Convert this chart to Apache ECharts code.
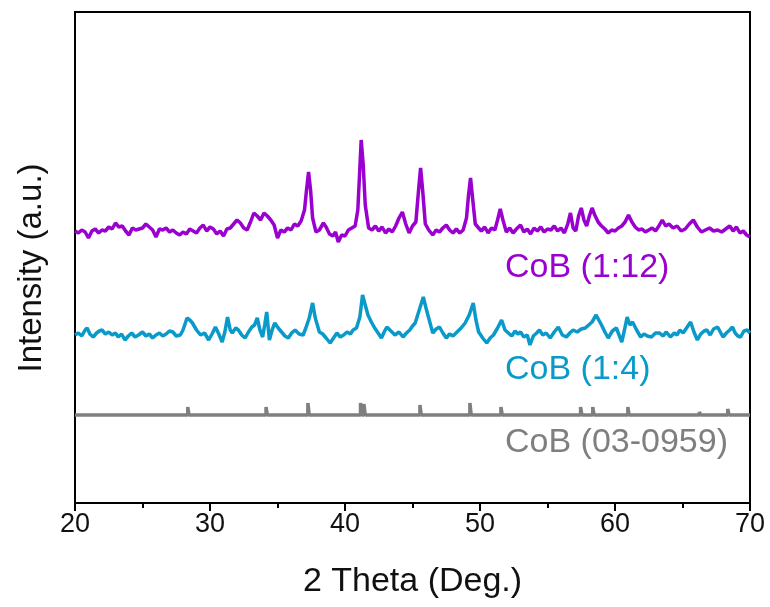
<!DOCTYPE html>
<html>
<head>
<meta charset="utf-8">
<script src="https://cdn.jsdelivr.net/npm/echarts@6/dist/echarts.min.js"></script>
<style>html,body{margin:0;padding:0;background:#fff}#c{width:770px;height:607px}</style>
</head>
<body>
<div id="c"></div>
<script>
// x tick labels
const xTicks = [20, 30, 40, 50, 60, 70];

// CoB (1:12) pattern
const cob12X = [20.0,20.25,20.5,20.75,21.0,21.25,21.5,21.75,22.0,22.25,22.5,22.75,23.0,23.25,23.5,23.75,24.0,24.25,24.5,24.75,25.0,25.25,25.5,25.75,26.0,26.25,26.5,26.75,27.0,27.25,27.5,27.75,28.0,28.25,28.5,28.75,29.0,29.25,29.5,29.75,30.0,30.25,30.5,30.75,31.0,31.25,31.5,31.75,32.0,32.25,32.5,32.75,33.0,33.25,33.5,33.75,34.0,34.25,34.5,34.75,35.0,35.25,35.5,35.75,36.0,36.25,36.5,36.75,37.0,37.15,37.3,37.45,37.6,37.85,38.1,38.4,38.6,38.85,39.1,39.3,39.5,39.75,40.0,40.25,40.5,40.75,40.95,41.1,41.2,41.35,41.5,41.75,42.0,42.25,42.5,42.75,43.0,43.25,43.5,43.75,44.0,44.25,44.5,44.75,45.0,45.25,45.45,45.6,45.75,45.95,46.2,46.5,46.75,47.0,47.25,47.5,47.75,48.0,48.25,48.5,48.75,49.0,49.15,49.3,49.45,49.65,49.9,50.1,50.35,50.6,50.85,51.1,51.3,51.5,51.7,51.95,52.2,52.45,52.7,53.0,53.25,53.5,53.75,54.0,54.25,54.5,54.75,55.0,55.25,55.5,55.75,56.0,56.25,56.5,56.7,56.9,57.1,57.3,57.5,57.7,57.9,58.1,58.3,58.5,58.75,59.0,59.25,59.5,59.75,60.0,60.25,60.5,60.75,61.0,61.25,61.5,61.75,62.0,62.25,62.5,62.75,63.0,63.25,63.5,63.75,64.0,64.3,64.6,64.9,65.2,65.5,65.8,66.1,66.4,66.7,67.0,67.3,67.6,67.9,68.2,68.5,68.75,69.0,69.25,69.5,69.75,70.0];
const cob12Y = [272,270,273,271,265,272,274,270,273,272,276,274,280,276,277,272,268,275,273,274,275,279,276,273,266,274,273,275,271,273,270,268,271,269,274,272,270,275,278,272,276,274,269,272,267,274,275,279,283,280,275,273,281,290,287,283,290,287,283,278,265,273,271,275,273,279,277,282,293,313,331,313,285,271,273,280,276,269,267,271,261,268,267,273,275,277,293,335,363,338,298,275,273,277,272,276,270,274,271,277,285,291,279,270,277,281,313,335,313,279,273,268,273,271,275,278,273,270,274,270,273,285,308,325,305,279,275,272,276,270,275,273,283,294,283,271,275,270,274,278,271,274,269,275,272,276,271,274,273,277,272,275,270,279,290,275,272,287,295,283,277,287,295,288,281,277,274,270,273,272,275,277,281,288,281,276,273,274,271,273,275,272,277,283,277,279,275,277,272,274,279,283,276,271,273,275,272,273,271,274,277,272,276,270,272,268,266];

// CoB (1:4) pattern
const cob4X = [20.0,20.25,20.5,20.75,20.9,21.1,21.35,21.6,21.8,22.0,22.25,22.5,22.75,23.0,23.2,23.45,23.7,23.95,24.2,24.45,24.7,25.0,25.25,25.5,25.75,26.0,26.25,26.5,26.75,27.0,27.25,27.5,27.8,28.0,28.3,28.5,28.7,29.0,29.3,29.6,29.9,30.15,30.4,30.65,30.9,31.1,31.3,31.5,31.65,31.9,32.1,32.35,32.6,32.85,33.1,33.3,33.5,33.7,33.9,34.05,34.2,34.4,34.6,34.8,35.05,35.3,35.55,35.8,36.05,36.3,36.6,36.9,37.1,37.35,37.6,37.8,38.1,38.35,38.6,38.9,39.15,39.4,39.65,39.9,40.15,40.4,40.6,40.85,41.1,41.3,41.5,41.7,41.95,42.2,42.45,42.7,42.9,43.1,43.4,43.7,44.0,44.3,44.55,44.8,45.0,45.2,45.5,45.8,46.0,46.2,46.5,46.75,47.0,47.25,47.5,47.75,48.0,48.3,48.6,48.9,49.2,49.5,49.7,49.9,50.2,50.5,50.75,51.0,51.3,51.6,51.85,52.1,52.35,52.6,52.8,53.0,53.25,53.5,53.7,53.95,54.2,54.4,54.65,54.9,55.2,55.5,55.8,56.1,56.4,56.65,56.9,57.2,57.5,57.8,58.05,58.3,58.6,58.8,59.0,59.25,59.5,59.8,60.1,60.3,60.5,60.7,60.9,61.1,61.3,61.6,61.9,62.15,62.4,62.7,63.0,63.3,63.55,63.8,64.1,64.4,64.6,64.8,65.05,65.3,65.6,65.85,66.1,66.35,66.6,66.8,67.05,67.3,67.6,67.8,68.0,68.25,68.5,68.7,68.9,69.1,69.3,69.55,69.8,70.0];
const cob4Y = [168,170,167,173,175,169,166,170,172,173,169,171,168,170,166,169,163,167,170,166,168,171,167,169,165,168,170,167,169,172,171,167,168,173,185,183,180,173,168,170,163,169,176,169,161,171,186,173,170,175,173,168,165,171,176,178,185,173,166,178,191,163,173,180,175,171,167,165,170,173,169,168,175,185,200,185,171,169,165,160,165,170,166,168,171,169,173,175,186,208,198,188,181,175,170,165,171,176,172,168,171,166,170,173,177,180,193,206,195,185,170,174,176,170,165,169,167,171,175,180,188,200,183,171,165,160,165,168,175,183,173,170,167,172,169,171,166,168,158,167,170,173,168,170,165,171,176,168,166,170,173,171,174,175,178,181,188,183,178,171,165,172,175,168,161,173,186,178,181,173,166,169,167,166,170,170,167,171,166,170,168,173,170,175,181,171,163,169,172,173,168,174,176,171,166,170,173,176,170,167,166,172,173,170];

// CoB (03-0959) reference lines
const refBase = 88;
const refPos = [28.4, 34.2, 37.3, 41.2, 41.45, 45.6, 49.3, 51.6, 57.5, 58.4, 61.0, 66.3, 68.4];
const refTop = [96, 96, 100, 100, 99, 98, 100, 96, 96, 96, 96, 91, 94];

const purple = '#9A00CF';
const cyan = '#0A9ACA';
const grey = '#7F7F7F';
const FONT = 'Liberation Sans, Arial, sans-serif';

const zip = (xs, ys) => xs.map((x, i) => [x, ys[i]]);
const refData = [[20, refBase]];
refPos.forEach((x, i) => {
  refData.push([x - 0.05, refBase], [x - 0.05, refTop[i]], [x + 0.05, refTop[i]], [x + 0.05, refBase]);
});
refData.push([70, refBase]);

const chart = echarts.init(document.getElementById('c'), null, {renderer: 'canvas'});
chart.setOption({
  animation: false,
  backgroundColor: '#fff',
  grid: {left: 75, right: 20, top: 12, bottom: 104, containLabel: false, outerBoundsMode: 'none',
         show: true, borderColor: '#000', borderWidth: 2},
  xAxis: {
    type: 'value', min: xTicks[0], max: xTicks[xTicks.length - 1], interval: 10,
    name: '2 Theta (Deg.)', nameLocation: 'middle', nameGap: 62,
    nameTextStyle: {fontFamily: FONT, fontSize: 34, color: '#111'},
    axisLine: {show: true, lineStyle: {color: '#000', width: 2}},
    axisTick: {show: true, inside: false, length: 8, lineStyle: {color: '#000', width: 2}},
    minorTick: {show: true, splitNumber: 2, length: 5, lineStyle: {color: '#000', width: 2}},
    axisLabel: {fontFamily: FONT, fontSize: 27, color: '#111', margin: 8},
    splitLine: {show: false}
  },
  yAxis: {
    type: 'value', min: 0, max: 491,
    axisLine: {show: true, lineStyle: {color: '#000', width: 2}},
    axisTick: {show: false}, axisLabel: {show: false}, splitLine: {show: false}
  },
  series: [
    {type: 'line', data: zip(cob12X, cob12Y), showSymbol: false, lineStyle: {color: purple, width: 3.5}},
    {type: 'line', data: zip(cob4X, cob4Y), showSymbol: false, lineStyle: {color: cyan, width: 3.5}},
    {type: 'line', data: refData, showSymbol: false, lineStyle: {color: grey, width: 3.5}}
  ],
  graphic: [
    {type: 'text', x: 32, y: 268, rotation: Math.PI / 2,
     style: {text: 'Intensity (a.u.)', fill: '#111', font: '33px ' + FONT, align: 'center', verticalAlign: 'middle'}},
    {type: 'text', left: 505, top: 251, style: {text: 'CoB (1:12)', fill: purple, font: '34px ' + FONT}},
    {type: 'text', left: 505, top: 353, style: {text: 'CoB (1:4)', fill: cyan, font: '34px ' + FONT}},
    {type: 'text', left: 505, top: 426, style: {text: 'CoB (03-0959)', fill: grey, font: '34px ' + FONT}}
  ]
});
</script>
</body>
</html>
